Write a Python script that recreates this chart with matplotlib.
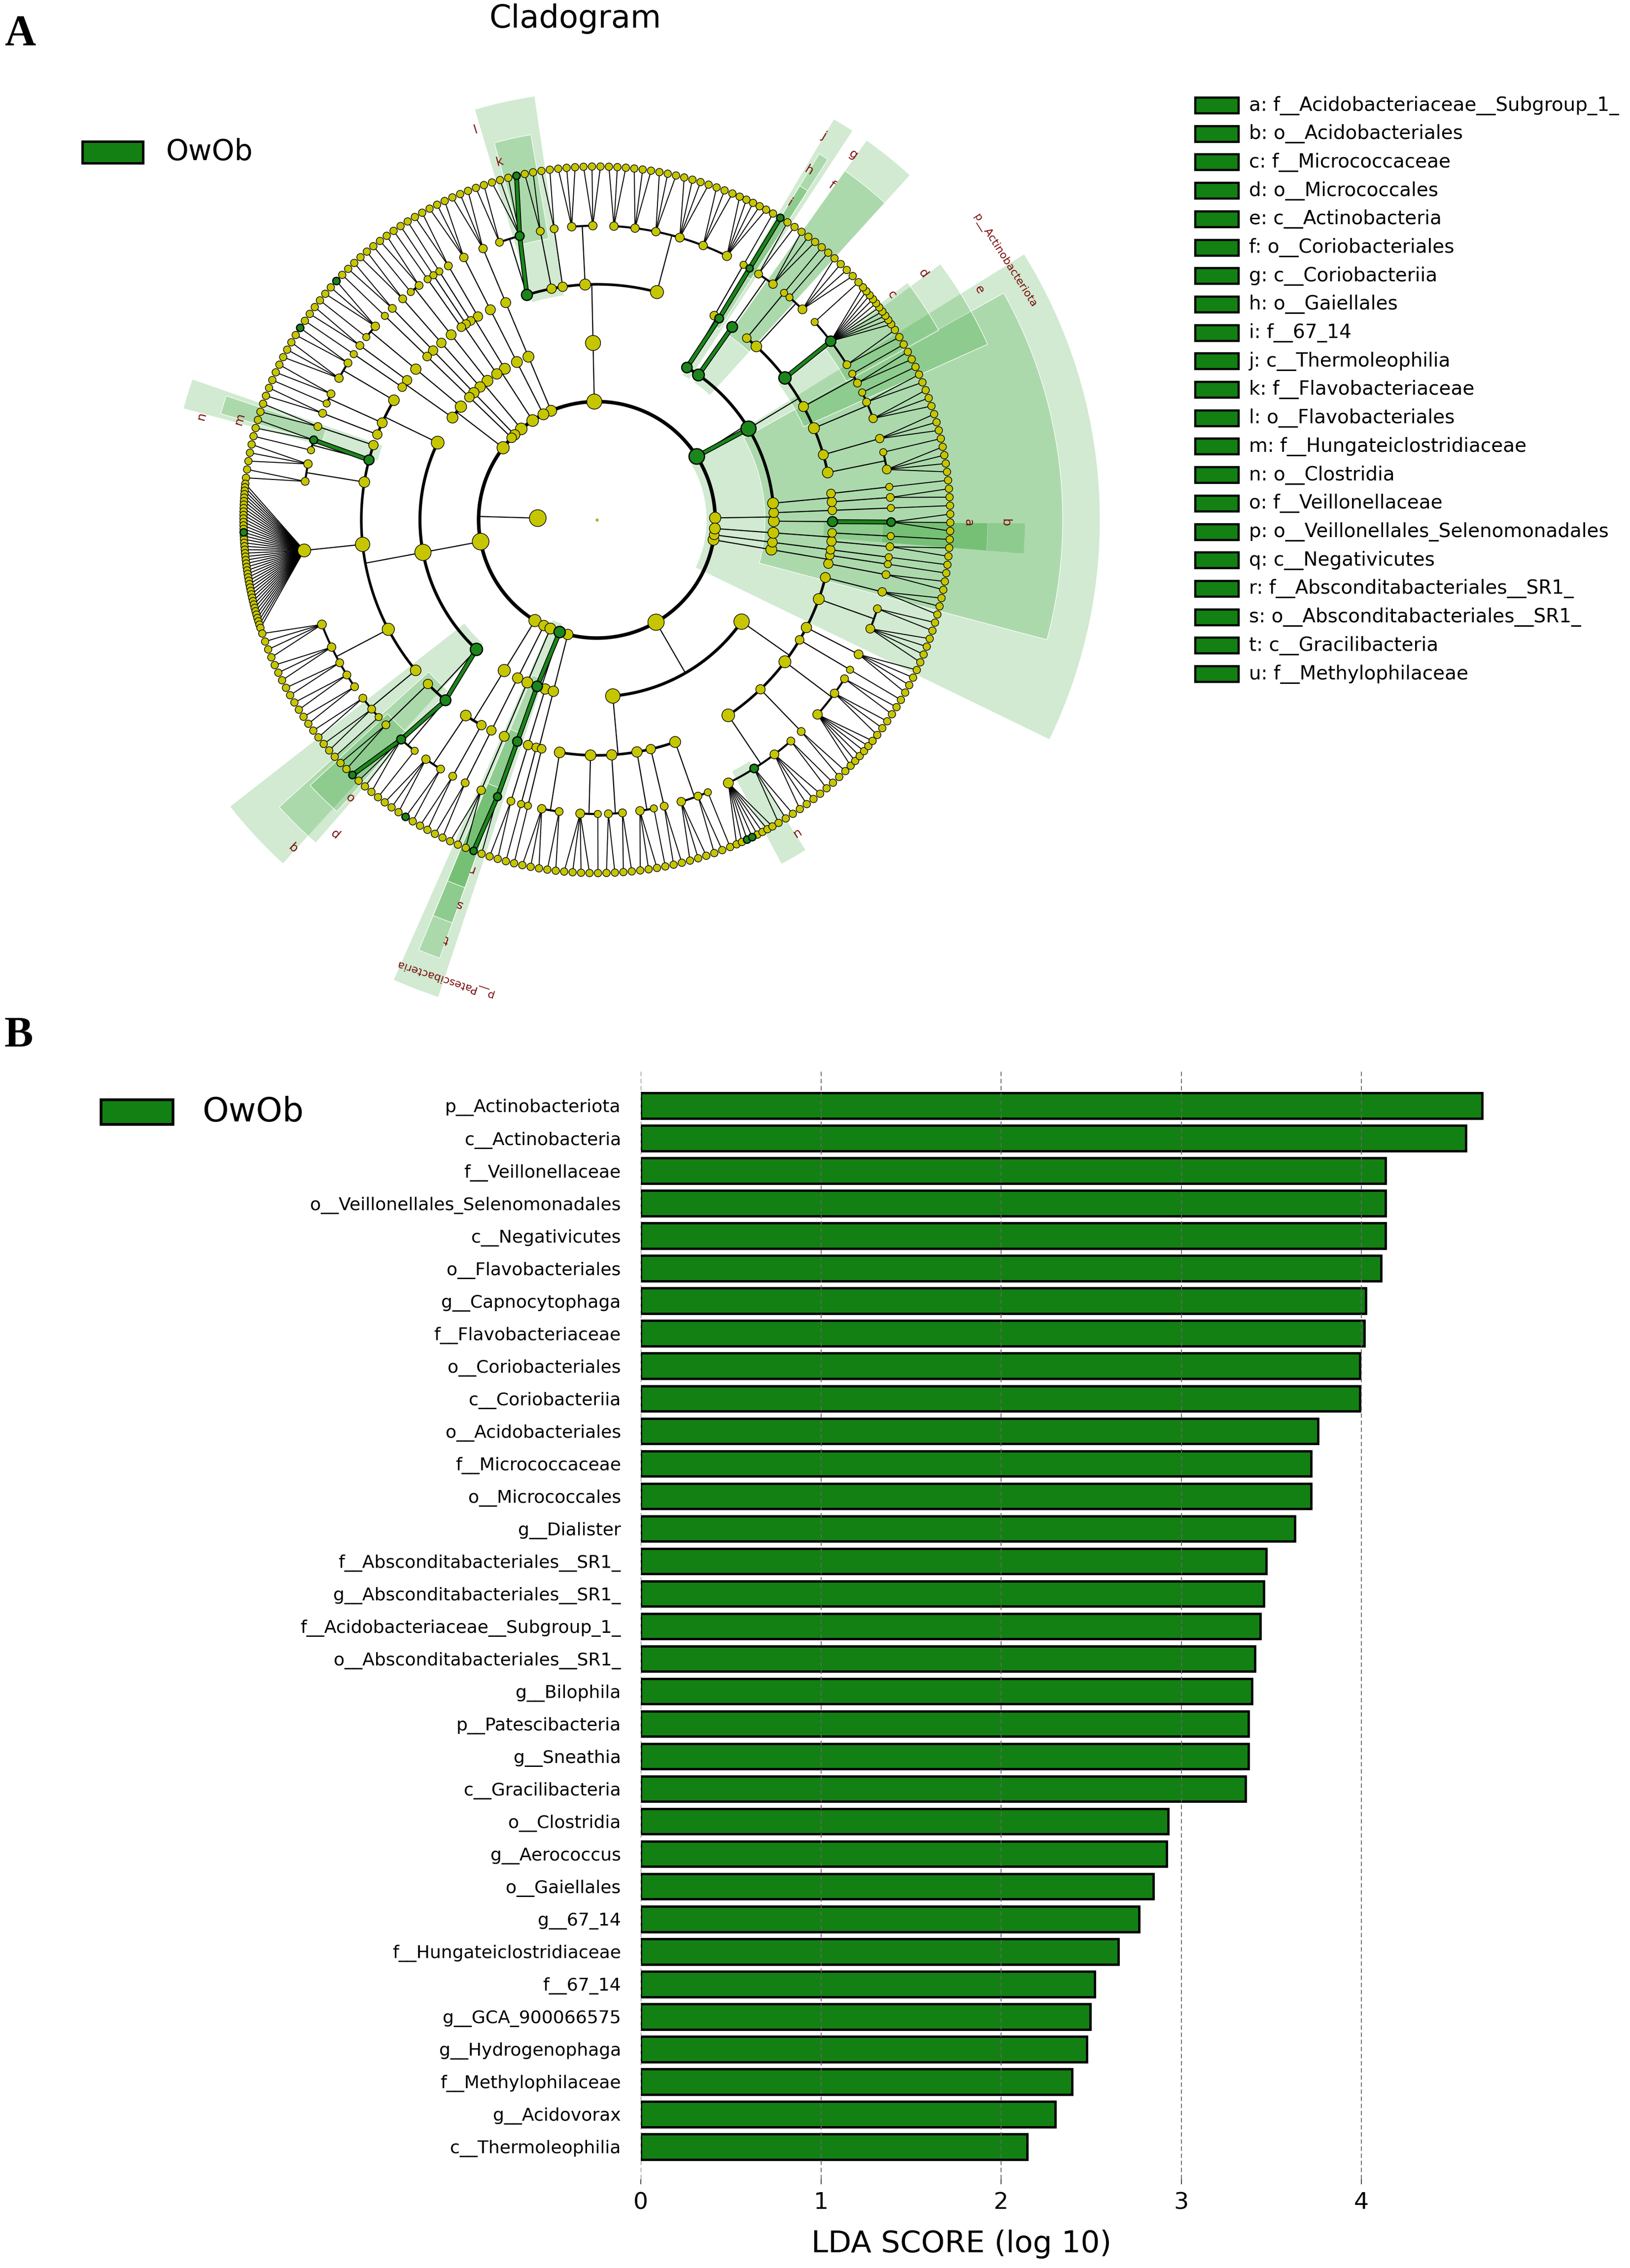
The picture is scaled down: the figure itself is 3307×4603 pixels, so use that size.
import math
import numpy as np
import matplotlib
matplotlib.use("Agg")
import matplotlib.pyplot as plt
from matplotlib.patches import Rectangle, Wedge

W, H, DPI = 3307, 4603, 100

# ---------------- data ----------------
group = "OwOb"

features = ["p__Actinobacteriota", "c__Actinobacteria", "f__Veillonellaceae",
            "o__Veillonellales_Selenomonadales", "c__Negativicutes", "o__Flavobacteriales",
            "g__Capnocytophaga", "f__Flavobacteriaceae", "o__Coriobacteriales",
            "c__Coriobacteriia", "o__Acidobacteriales", "f__Micrococcaceae",
            "o__Micrococcales", "g__Dialister", "f__Absconditabacteriales__SR1_",
            "g__Absconditabacteriales__SR1_", "f__Acidobacteriaceae__Subgroup_1_",
            "o__Absconditabacteriales__SR1_", "g__Bilophila", "p__Patescibacteria",
            "g__Sneathia", "c__Gracilibacteria", "o__Clostridia", "g__Aerococcus",
            "o__Gaiellales", "g__67_14", "f__Hungateiclostridiaceae", "f__67_14",
            "g__GCA_900066575", "g__Hydrogenophaga", "f__Methylophilaceae",
            "g__Acidovorax", "c__Thermoleophilia"]
lda = [4.67, 4.58, 4.135, 4.135, 4.135, 4.11, 4.025, 4.016, 3.993, 3.993, 3.76,
       3.72, 3.72, 3.63, 3.472, 3.457, 3.44, 3.41, 3.393, 3.373, 3.373, 3.357,
       2.928, 2.918, 2.845, 2.765, 2.65, 2.52, 2.495, 2.475, 2.395, 2.30, 2.145]

legend_letters = list("abcdefghijklmnopqrstu")
legend_taxa = ["f__Acidobacteriaceae__Subgroup_1_", "o__Acidobacteriales", "f__Micrococcaceae",
               "o__Micrococcales", "c__Actinobacteria", "o__Coriobacteriales", "c__Coriobacteriia",
               "o__Gaiellales", "f__67_14", "c__Thermoleophilia", "f__Flavobacteriaceae",
               "o__Flavobacteriales", "f__Hungateiclostridiaceae", "o__Clostridia",
               "f__Veillonellaceae", "o__Veillonellales_Selenomonadales", "c__Negativicutes",
               "f__Absconditabacteriales__SR1_", "o__Absconditabacteriales__SR1_",
               "c__Gracilibacteria", "f__Methylophilaceae"]

# taxonomy tree (phylum -> class -> order -> family -> genera), alphabetical as in LEfSe.
# int at family level = number of genera; list at family level mixes counts and named genera;
# int above family level = single-lineage chain ending in that many genera.
tree = [
    ("p__Acidobacteriota", [
        [("o__Acidobacteriales", [("f__Acidobacteriaceae__Subgroup_1_", 3)])],
        1]),
    ("p__Actinobacteriota", [
        [[2], [1]],
        ("c__Actinobacteria", [
            [4, 1], [3], [3, 2, 1], [2, 1],
            ("o__Micrococcales", [2, ("f__Micrococcaceae", 10), 1]),
            [4, 1], [1]]),
        ("c__Coriobacteriia", [("o__Coriobacteriales", [3, 2])]),
        ("c__Thermoleophilia", [("o__Gaiellales", [("f__67_14", ["g__67_14"])]), [1]])]),
    ("p__Bacteroidota", [
        [[5, 3, 4, 3, 3, 3], [3, 3], [2], [2],
         ("o__Flavobacteriales", [("f__Flavobacteriaceae", ["g__Capnocytophaga", 3]), 2])]]),
    ("p__Bdellovibrionota", [3]),
    ("p__Campilobacterota", [3]),
    ("p__Chloroflexi", [[[2], [1]], [[1], [1]]]),
    ("p__Cyanobacteria", [[[2, 1]], 2]),
    ("p__Deinococcota", [2]),
    ("p__Dependentiae", [1]),
    ("p__Desulfobacterota", [[[["g__Bilophila", 2], 1]], [[2], [1]]]),
    ("p__Firmicutes", [
        [[["g__Aerococcus", 1], 3], [2, 1], [2]],
        [[2], ("o__Clostridia", [("f__Hungateiclostridiaceae", 2), 1]), [3, 2],
         [[14, "g__GCA_900066575", 28]], [4, 3, 2, 2, 2], [2, 2, 1]],
        ("c__Negativicutes", [[2], ("o__Veillonellales_Selenomonadales",
                                    [("f__Veillonellaceae", ["g__Dialister", 3]), 1])])]),
    ("p__Fusobacteriota", [[[3, ["g__Sneathia", 1]], [2]]]),
    ("p__Gemmatimonadota", [2]),
    ("p__Myxococcota", [3]),
    ("p__Patescibacteria", [
        ("c__Gracilibacteria", [("o__Absconditabacteriales__SR1_",
                                 [("f__Absconditabacteriales__SR1_",
                                   ["g__Absconditabacteriales__SR1_", 1])])]),
        [[2]]]),
    ("p__Planctomycetota", [[[1], [1]]]),
    ("p__Proteobacteria", [
        [[3, 2], [4, 1], [2, 2], [3, 1], [2], [3, 2, 1]],
        [[[2, "g__Acidovorax", "g__Hydrogenophaga", 4], ("f__Methylophilaceae", 3), 4, 2],
         [2], [6, 3, 2], [1], [4], [4, 2], [3]]]),
    ("p__Spirochaetota", [[[2], [1]]]),
    ("p__Synergistota", [1]),
    ("p__Verrucomicrobiota", [[[2], [1]]]),
]

# ---------------- style / layout ----------------
GREEN = "#138013"
NODE_GREEN = "#1b861b"
YELLOW = "#c6c600"
LABEL_RED = "#7a0a0a"
CX, CY = 1211, 1055
GENUS = 6
RAD = {1: 120, 2: 240, 3: 359, 4: 478, 5: 597, 6: 717}
START = -2.5
ARC_LW = {2: 5.2, 3: 4.4, 4: 3.8, 5: 3.0}

biomarkers = set(features)
letter_of = dict(zip(legend_taxa, legend_letters))


def make(item, depth):
    name, body = item if isinstance(item, tuple) else (None, item)
    node = {"name": name, "depth": depth, "kids": []}
    if depth == GENUS:
        return node
    if depth == GENUS - 1:
        parts = body if isinstance(body, list) else [body]
        gen = []
        for p in parts:
            if isinstance(p, str):
                gen.append(make((p, None), GENUS))
            else:
                gen.extend(make(None, GENUS) for _ in range(p))
        n = len(gen)
        tot = n if n <= 4 else 4 + 0.35 * (n - 4)
        for g in gen:
            g["w"] = tot / n
        node["kids"] = gen
        return node
    if isinstance(body, int):
        node["kids"] = [make(body, depth + 1)]
    else:
        node["kids"] = [make(x, depth + 1) for x in body]
    return node


kingdom = {"name": "k__Bacteria", "depth": 1, "kids": [make(p, 2) for p in tree]}

leaves, allnodes = [], []


def collect(n):
    allnodes.append(n)
    if not n["kids"]:
        leaves.append(n)
    for k in n["kids"]:
        collect(k)


collect(kingdom)
total = sum(l.get("w", 1.0) for l in leaves)
dper = 360.0 / total
cum = 0.0
for l in leaves:
    w = l.get("w", 1.0) * dper
    l["a0"] = START + cum
    l["a1"] = START + cum + w
    l["ang"] = START + cum + w / 2
    cum += w


def place(n):
    if n["kids"]:
        for k in n["kids"]:
            place(k)
        n["ang"] = (n["kids"][0]["ang"] + n["kids"][-1]["ang"]) / 2
        n["a0"] = n["kids"][0]["a0"]
        n["a1"] = n["kids"][-1]["a1"]
        n["nleaf"] = sum(k["nleaf"] for k in n["kids"])
    else:
        n["nleaf"] = 1


place(kingdom)


def xy(r, a):
    t = math.radians(a)
    return CX + r * math.cos(t), CY - r * math.sin(t)


# ---------------- figure ----------------
fig = plt.figure(figsize=(W / DPI, H / DPI), dpi=DPI)
axp = fig.add_axes([0, 0, 1, 1])
axp.set_xlim(0, W)
axp.set_ylim(H, 0)
axp.axis("off")

# highlight wedges (polar bars centred on the clade start, as LEfSe draws them)
for n in allnodes:
    if n["name"] in biomarkers and n["depth"] < GENUS:
        d = n["depth"]
        up = GENUS - d
        outer = RAD[GENUS] + 76 * up
        inner = RAD[d] - 18
        w = n["a1"] - n["a0"]
        lo, hi = n["a0"] - w / 2, n["a0"] + w / 2
        axp.add_patch(Wedge((CX, CY), outer, -hi, -lo, width=outer - inner,
                            facecolor=(0.1, 0.59, 0.1, 0.2),
                            edgecolor=(1, 1, 1, 0.9), linewidth=1.0, zorder=1))
        lab = n["name"] if d == 2 else letter_of.get(n["name"], "")
        lx, ly = xy(outer - 40, n["ang"])
        axp.text(lx, ly, lab, fontsize=16 if d == 2 else 18, color=LABEL_RED,
                 rotation=n["ang"] - 90, rotation_mode="anchor",
                 ha="center", va="center", zorder=6)


def arc(r, a, b, lw):
    t = np.radians(np.linspace(a, b, max(8, int(abs(b - a) * 3))))
    axp.plot(CX + r * np.cos(t), CY - r * np.sin(t), color="black", lw=lw,
             solid_capstyle="butt", zorder=2)


def seg(p, q, lw, color="black", z=2):
    axp.plot([p[0], q[0]], [p[1], q[1]], color=color, lw=lw, solid_capstyle="round", zorder=z)


def draw(n):
    d = n["depth"]
    kids = n["kids"]
    if not kids:
        return
    if d == GENUS - 1:
        for k in kids:
            seg(xy(RAD[d], n["ang"]), xy(RAD[d + 1], k["ang"]), 1.4)
    else:
        seg(xy(RAD[d], n["ang"]), xy(RAD[d + 1], n["ang"]), 1.6)
        if len(kids) > 1:
            arc(RAD[d + 1], kids[0]["ang"], kids[-1]["ang"], ARC_LW[d + 1])
    for k in kids:
        if (n["name"] in biomarkers and k["name"] in biomarkers
                and abs(n["ang"] - k["ang"]) < 3.5):
            p, q = xy(RAD[d], n["ang"]), xy(RAD[d + 1], k["ang"])
            seg(p, q, 7.0, "black", 3)
            seg(p, q, 4.6, NODE_GREEN, 3.1)
        draw(k)


draw(kingdom)

# nodes
base = {1: 34, 2: 17, 3: 17, 4: 15, 5: 12}
xs, ys, ss, cs, lws, zs = [], [], [], [], [], []
for n in allnodes:
    d = n["depth"]
    if d == GENUS:
        dpx = 15
    elif d == 1:
        dpx = base[1]
    else:
        dpx = base[d] + 2.6 * math.log2(1 + n["nleaf"])
    x, y = xy(RAD[d], n["ang"])
    bm = n["name"] in biomarkers
    xs.append(x); ys.append(y)
    ss.append((dpx * 72 / DPI) ** 2)
    cs.append(NODE_GREEN if bm else YELLOW)
    lws.append(1.8 if bm else 1.0)
    zs.append(bm)
xs, ys, ss, lws = map(np.array, (xs, ys, ss, lws))
zs = np.array(zs)
cs = np.array(cs)
for flag, z in ((False, 4), (True, 5)):
    m = zs == flag
    axp.scatter(xs[m], ys[m], s=ss[m], c=list(cs[m]), edgecolors="black",
                linewidths=lws[m], zorder=z)
axp.scatter([CX], [CY], s=(5 * 72 / DPI) ** 2, c=YELLOW, edgecolors="#666600",
            linewidths=0.5, zorder=5)

# panel A texts and legends
axp.text(9, 91, "A", fontsize=63, fontweight="bold", family="Liberation Serif",
         ha="left", va="baseline")
axp.text(9, 2124, "B", fontsize=63, fontweight="bold", family="Liberation Serif",
         ha="left", va="baseline")
axp.text(1167, 56, "Cladogram", fontsize=46, ha="center", va="baseline")

axp.add_patch(Rectangle((167, 287), 123, 44, facecolor=GREEN, edgecolor="black",
                        linewidth=3.6, zorder=3))
axp.text(337, 309, group, fontsize=42, ha="left", va="center")

for i, (lt, tx) in enumerate(zip(legend_letters, legend_taxa)):
    yc = 214 + i * 57.7
    axp.add_patch(Rectangle((2425, yc - 16), 88, 32, facecolor=GREEN, edgecolor="black",
                            linewidth=3.2, zorder=3))
    axp.text(2534, yc, f"{lt}: {tx}", fontsize=28, ha="left", va="center")

# panel B legend
axp.add_patch(Rectangle((205, 2232), 146, 50, facecolor=GREEN, edgecolor="black",
                        linewidth=4.0, zorder=3))
axp.text(410, 2257, group, fontsize=49, ha="left", va="center")

# ---------------- LDA bar chart ----------------
ax = fig.add_axes([1300 / W, (H - 4423) / H, 1827.5 / W, 2250 / H])
ypos = np.arange(len(features))[::-1]
ax.barh(ypos, lda, height=0.78, color=GREEN, edgecolor="black", linewidth=3.4, zorder=1)
ax.set_ylim(-1.0, 33.075)
ax.set_xlim(0, 5)
ax.set_xticks([0, 1, 2, 3, 4])
ax.set_yticks(ypos)
ax.set_yticklabels(features, fontsize=26)
ax.tick_params(axis="y", length=0, pad=29)
ax.tick_params(axis="x", length=7, width=1.5, labelsize=34, pad=11, color="0.3")
for s in ax.spines.values():
    s.set_visible(False)
ax.set_axisbelow(False)
ax.xaxis.grid(True, linestyle=(0, (5, 3)), color="0.4", linewidth=1.3)
ax.set_xlabel("LDA SCORE (log 10)", fontsize=44)
ax.xaxis.set_label_coords((1951 - 1300) / 1827.5, (4423 - 4555) / 2250)
ax.xaxis.label.set_va("center")
ax.patch.set_alpha(0)

fig.savefig("out.png", dpi=DPI)
